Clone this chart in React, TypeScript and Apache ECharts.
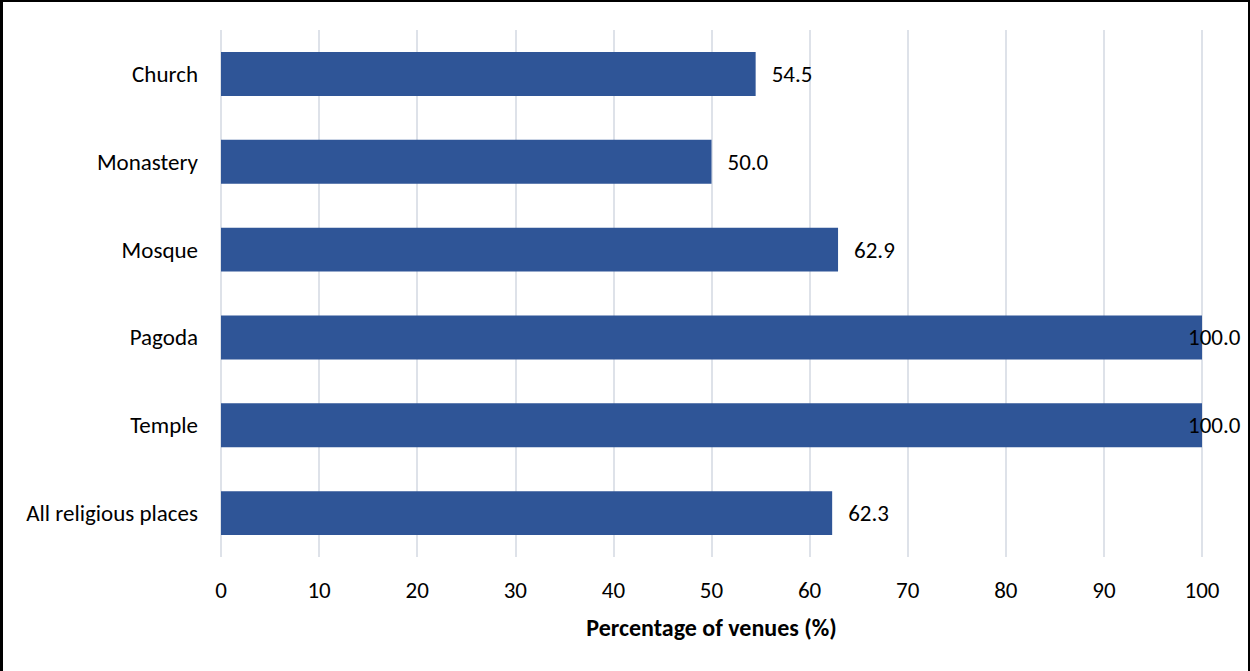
import React, { useEffect, useRef } from "react";
import * as echarts from "echarts";

const categories = [
  "Church",
  "Monastery",
  "Mosque",
  "Pagoda",
  "Temple",
  "All religious places",
];
const percentages = [54.5, 50.0, 62.9, 100.0, 100.0, 62.3];
const axisTitle = "Percentage of venues (%)";

const FONT = "Carlito, Calibri, Lato, sans-serif";
const BAR_COLOR = "#2F5597";
const GRID_COLOR = "#DEE2E9";
const FONT_SIZE = 23;

export default function App() {
  const ref = useRef<HTMLDivElement>(null);

  useEffect(() => {
    if (!ref.current) return;
    const chart = echarts.init(ref.current, undefined, { renderer: "svg" });

    // Full bars sit against the plot edge, so their labels are pulled back inside.
    const data = percentages.map((v) => ({
      value: v,
      label: v >= 100 ? { distance: -14 } : {},
    }));

    chart.setOption({
      animation: false,
      backgroundColor: "#ffffff",
      grid: { left: 221, right: 48, top: 30, bottom: 114, containLabel: false },
      xAxis: {
        type: "value",
        min: 0,
        max: 100,
        interval: 10,
        name: axisTitle,
        nameLocation: "middle",
        nameGap: 58,
        nameTextStyle: {
          fontFamily: FONT,
          fontSize: 24,
          fontWeight: "bold",
          color: "#000",
        },
        axisLine: { show: false },
        axisTick: { show: false },
        axisLabel: {
          margin: 21,
          fontFamily: FONT,
          fontSize: FONT_SIZE,
          color: "#000",
        },
        splitLine: { show: true, lineStyle: { color: GRID_COLOR, width: 2 } },
      },
      yAxis: {
        type: "category",
        data: categories,
        inverse: true,
        axisLine: { show: false },
        axisTick: { show: false },
        axisLabel: {
          margin: 23,
          fontFamily: FONT,
          fontSize: FONT_SIZE,
          color: "#000",
        },
      },
      series: [
        {
          type: "bar",
          data,
          barCategoryGap: "50%",
          itemStyle: { color: BAR_COLOR },
          label: {
            show: true,
            position: "right",
            distance: 16,
            formatter: (p: any) => Number(p.value).toFixed(1),
            fontFamily: FONT,
            fontSize: FONT_SIZE,
            color: "#000",
          },
        },
      ],
      graphic: [
        { type: "rect", shape: { x: 0, y: 0, width: 3, height: 671 }, style: { fill: "#000" } },
        { type: "rect", shape: { x: 0, y: 0, width: 1250, height: 2 }, style: { fill: "#000" } },
        { type: "rect", shape: { x: 1248, y: 0, width: 2, height: 671 }, style: { fill: "#000" } },
      ],
    });

    return () => chart.dispose();
  }, []);

  return (
    <div
      ref={ref}
      style={{ position: "fixed", left: 0, top: 0, width: 1250, height: 671 }}
    />
  );
}
